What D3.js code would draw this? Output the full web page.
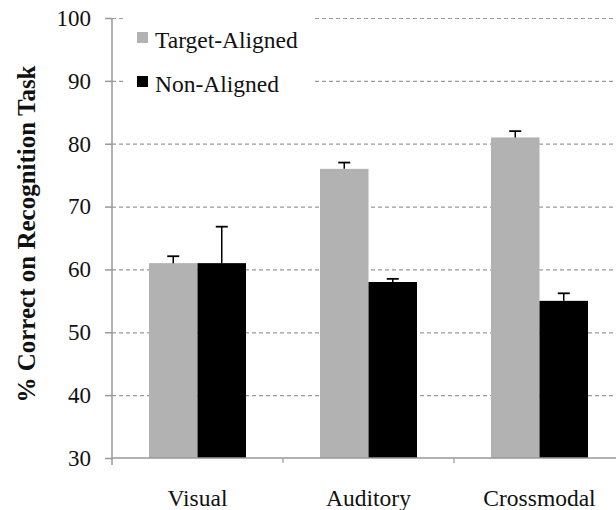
<!DOCTYPE html>
<html>
<head>
<meta charset="utf-8">
<script src="https://cdn.jsdelivr.net/npm/d3@7"></script>
<style>
body { margin: 0; background: #fff; }
svg { display: block; }
</style>
</head>
<body>
<script>
// values
var categories = ["Visual", "Auditory", "Crossmodal"];
var seriesNames = ["Target-Aligned", "Non-Aligned"];
var targetAligned = [61, 76, 81];
var nonAligned = [61, 58, 55];
var targetErr = [1.1, 1.0, 1.0];
var nonErr = [5.8, 0.5, 1.2];
var yTicks = [30, 40, 50, 60, 70, 80, 90, 100];

var W = 616, H = 510;
var mLeft = 112, mTop = 18, mBottom = 458;
var mRight = 625; // last band runs past the edge of the figure
var serif = "'Liberation Serif', 'Times New Roman', serif";

var svg = d3.select("body").append("svg").attr("width", W).attr("height", H)
  .style("font-family", serif);

var y = d3.scaleLinear().domain([30, 100]).range([mBottom, mTop]);
var x = d3.scaleBand().domain(categories).range([mLeft, mRight]).paddingInner(0).paddingOuter(0);
var inner = d3.scaleBand().domain(seriesNames).range([37, x.bandwidth() - 37]);
var colour = d3.scaleOrdinal().domain(seriesNames).range(["#b2b2b2", "#000000"]);

var rows = [];
categories.forEach(function(c, i) {
  rows.push({cat: c, s: seriesNames[0], v: targetAligned[i], e: targetErr[i]});
  rows.push({cat: c, s: seriesNames[1], v: nonAligned[i], e: nonErr[i]});
});

// gridlines
svg.append("g").selectAll("line").data(yTicks.filter(function(d) { return d > 30; }))
  .enter().append("line")
  .attr("x1", mLeft).attr("x2", W)
  .attr("y1", function(d) { return y(d) + 0.5; })
  .attr("y2", function(d) { return y(d) + 0.5; })
  .attr("stroke", "#9a9a9a").attr("stroke-width", 1.2)
  .attr("stroke-dasharray", "4,3");

// bars
svg.append("g").selectAll("rect").data(rows).enter().append("rect")
  .attr("x", function(d) { return x(d.cat) + inner(d.s); })
  .attr("width", inner.bandwidth())
  .attr("y", function(d) { return y(d.v); })
  .attr("height", function(d) { return y(30) - y(d.v); })
  .attr("fill", function(d) { return colour(d.s); });

// error bars (upper half only)
var eb = svg.append("g").selectAll("g").data(rows).enter().append("g")
  .attr("transform", function(d) { return "translate(" + (x(d.cat) + inner(d.s) + inner.bandwidth() / 2) + ",0)"; });
eb.append("line")
  .attr("y1", function(d) { return y(d.v); })
  .attr("y2", function(d) { return y(d.v + d.e); })
  .attr("stroke", "#000").attr("stroke-width", 1.5);
eb.append("line")
  .attr("x1", -6).attr("x2", 6)
  .attr("y1", function(d) { return y(d.v + d.e); })
  .attr("y2", function(d) { return y(d.v + d.e); })
  .attr("stroke", "#000").attr("stroke-width", 1.8);

// y axis
var yAxis = svg.append("g").attr("transform", "translate(" + mLeft + ",0)")
  .call(d3.axisLeft(y).tickValues(yTicks).tickSize(7).tickPadding(14));
yAxis.select(".domain").remove();
yAxis.append("line").attr("y1", mTop).attr("y2", mBottom + 7).attr("stroke", "#999").attr("stroke-width", 1.5);
yAxis.selectAll(".tick line").attr("stroke", "#999").attr("stroke-width", 1.5);
yAxis.selectAll(".tick text").attr("font-size", 23).attr("fill", "#111")
  .style("font-family", serif);

// x axis
var xAxis = svg.append("g").attr("transform", "translate(0," + mBottom + ")");
xAxis.append("line").attr("x1", mLeft).attr("x2", W).attr("stroke", "#999").attr("stroke-width", 1.5);
xAxis.selectAll("line.tk").data(categories.slice(1)).enter().append("line")
  .attr("x1", function(d) { return x(d); }).attr("x2", function(d) { return x(d); })
  .attr("y1", 0).attr("y2", 5).attr("stroke", "#999").attr("stroke-width", 1.2);
xAxis.selectAll("text").data(categories).enter().append("text")
  .attr("x", function(d) { return x(d) + x.bandwidth() / 2; })
  .attr("y", 48)
  .attr("text-anchor", "middle").attr("font-size", 23.5).attr("fill", "#111")
  .style("font-family", serif)
  .text(function(d) { return d; });

// y label
svg.append("text")
  .attr("transform", "translate(35," + 234 + ") rotate(-90)")
  .attr("text-anchor", "middle").attr("font-size", 25).attr("font-weight", "bold")
  .attr("fill", "#111").style("font-family", serif)
  .text("% Correct on Recognition Task");

// legend with white box over the grid
var lg = svg.append("g");
lg.append("rect").attr("x", 124).attr("y", 8).attr("width", 188).attr("height", 92).attr("fill", "#fff");
var li = lg.selectAll("g").data(seriesNames).enter().append("g")
  .attr("transform", function(d, i) { return "translate(137," + (32 + i * 44) + ")"; });
li.append("rect").attr("width", 11).attr("height", 11).attr("fill", function(d) { return colour(d); });
li.append("text").attr("x", 18).attr("y", 16).attr("font-size", 23.5).attr("fill", "#111")
  .style("font-family", serif)
  .text(function(d) { return d; });
</script>
</body>
</html>
